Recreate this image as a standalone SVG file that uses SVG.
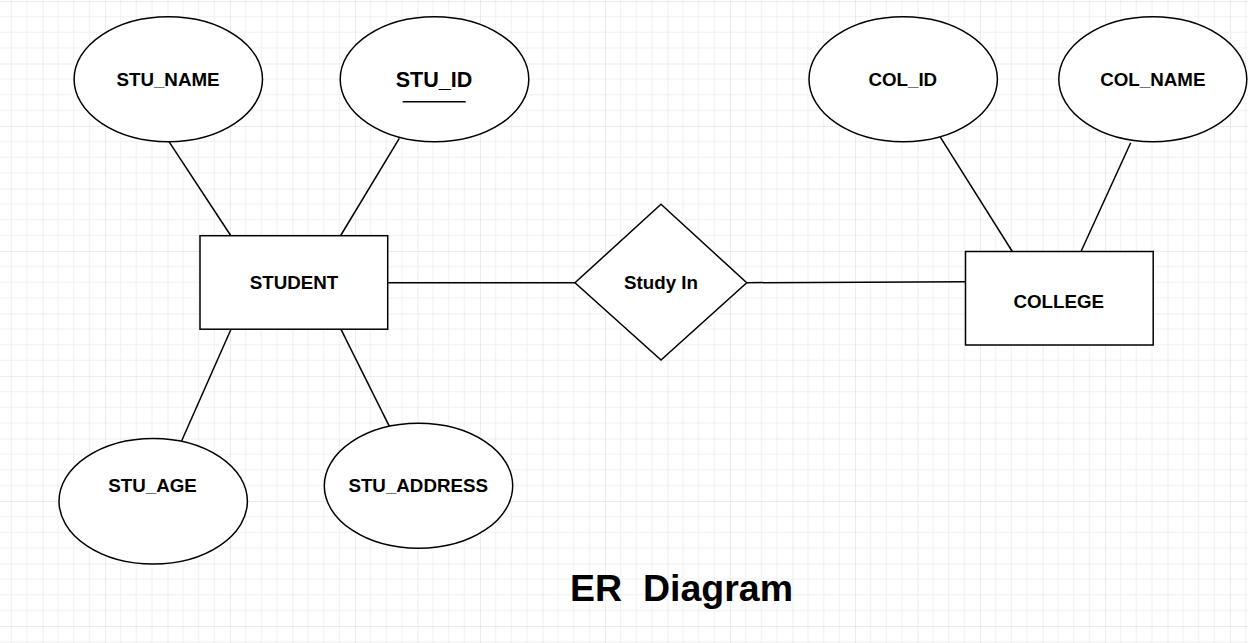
<svg xmlns="http://www.w3.org/2000/svg" width="1248" height="643" viewBox="0 0 1248 643">
  <defs>
    <pattern id="grid" x="42.5" y="1" width="62.5" height="62.5" patternUnits="userSpaceOnUse">
      <path d="M15.625 0V62.5M31.25 0V62.5M46.875 0V62.5M0 15.625H62.5M0 31.25H62.5M0 46.875H62.5" stroke="#f0f0f0" stroke-width="1" fill="none"/>
      <path d="M0 0V62.5M0 0H62.5" stroke="#d9d9d9" stroke-width="1" fill="none"/>
    </pattern>
    <style>
      .shape { fill: #ffffff; stroke: #000000; stroke-width: 1.5; }
      .conn line { stroke: #000000; stroke-width: 1.5; }
      .lbl { font-family: "Liberation Sans", Arial, sans-serif; font-weight: bold; font-size: 18.75px; fill: #000000; text-anchor: middle; }
      .key { font-family: "Liberation Sans", Arial, sans-serif; font-weight: bold; font-size: 21.5px; fill: #000000; text-anchor: middle; }
      .title { font-family: "Liberation Sans", Arial, sans-serif; font-weight: bold; font-size: 37.5px; fill: #000000; }
    </style>
  </defs>
  <rect x="0" y="0" width="1248" height="643" fill="#ffffff"/>
  <rect x="0" y="0" width="1248" height="643" fill="url(#grid)"/>

  <g id="connectors" class="conn">
    <line x1="169" y1="141.7" x2="230.7" y2="235.5"/>
    <line x1="399.3" y1="138.3" x2="340.7" y2="235.5"/>
    <line x1="231" y1="329.3" x2="181.7" y2="440.7"/>
    <line x1="341" y1="329.3" x2="390" y2="427.7"/>
    <line x1="387.7" y1="282.7" x2="575" y2="282.7"/>
    <line x1="746.7" y1="282.7" x2="965.5" y2="281.7"/>
    <line x1="940" y1="136.7" x2="1012.3" y2="251.5"/>
    <line x1="1130.7" y1="142.7" x2="1081" y2="251.5"/>
  </g>

  <g id="stu_name">
    <ellipse class="shape" cx="168.3" cy="79.2" rx="94.2" ry="62.5"/>
    <text class="lbl" x="168" y="86">STU_NAME</text>
  </g>
  <g id="stu_id">
    <ellipse class="shape" cx="434.5" cy="79.2" rx="94.3" ry="62.5"/>
    <text class="key" x="434" y="87">STU_ID</text>
    <line x1="402.7" y1="101.7" x2="465.7" y2="101.7" stroke="#000000" stroke-width="1.4"/>
  </g>
  <g id="student">
    <rect class="shape" x="200" y="235.7" width="187.7" height="93.5"/>
    <text class="lbl" x="294" y="289">STUDENT</text>
  </g>
  <g id="stu_age">
    <ellipse class="shape" cx="153.2" cy="501.2" rx="94.2" ry="62.8"/>
    <text class="lbl" x="152.5" y="491.7">STU_AGE</text>
  </g>
  <g id="stu_address">
    <ellipse class="shape" cx="418.5" cy="485.8" rx="94.2" ry="62.5"/>
    <text class="lbl" x="418.2" y="491.7">STU_ADDRESS</text>
  </g>
  <g id="study_in">
    <polygon class="shape" points="661,204.3 746.7,282.7 661,360 575,282.7"/>
    <text class="lbl" x="661" y="289">Study In</text>
  </g>
  <g id="col_id">
    <ellipse class="shape" cx="903.2" cy="79.2" rx="94.2" ry="62.5"/>
    <text class="lbl" x="902.8" y="86">COL_ID</text>
  </g>
  <g id="col_name">
    <ellipse class="shape" cx="1152.8" cy="79.2" rx="94" ry="62.5"/>
    <text class="lbl" x="1152.8" y="86">COL_NAME</text>
  </g>
  <g id="college">
    <rect class="shape" x="965.5" y="251.5" width="187.7" height="93.5"/>
    <text class="lbl" x="1058.7" y="308.3">COLLEGE</text>
  </g>
  <g id="title">
    <text class="title" x="570" y="601" xml:space="preserve">ER  Diagram</text>
  </g>
</svg>
